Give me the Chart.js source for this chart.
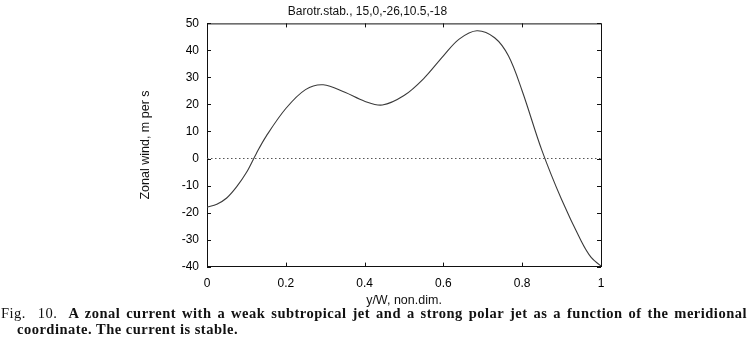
<!DOCTYPE html>
<html>
<head>
<meta charset="utf-8">
<script src="https://cdn.jsdelivr.net/npm/chart.js@4.4.0/dist/chart.umd.min.js"></script>
<style>
  body { margin: 0; background: #fff; }
  #wrap { position: relative; width: 749px; height: 308px; }
  .cap { font-family: "Liberation Serif", "DejaVu Serif", serif; font-size: 14.5px; line-height: 16px;
         color: #111; font-weight: bold; letter-spacing: 0.5px; }
  #cap1 { position: absolute; left: 1px; top: 305px; width: 746px; text-align: justify; text-align-last: justify; white-space: nowrap; }
  #cap2 { position: absolute; left: 17px; top: 321px; }
  .reg { font-weight: normal; }
</style>
</head>
<body>
<div id="wrap"><canvas id="windChart"></canvas></div>
<div id="cap1" class="cap"><span class="reg">Fig.&nbsp; 10.</span>&nbsp; A zonal current with a weak subtropical jet and a strong polar jet as a function of the meridional</div>
<div id="cap2" class="cap">coordinate. The current is stable.</div>
<script>
// meridional coordinate y/W and zonal wind (m/s)
const yPos = [0, 0.025, 0.05, 0.075, 0.10, 0.125, 0.15, 0.20, 0.25, 0.295, 0.35, 0.40, 0.445,
              0.50, 0.55, 0.60, 0.64, 0.685, 0.73, 0.765, 0.80, 0.85, 0.90, 0.95, 0.975, 1.00];
const wind = [-18, -16.9, -14.6, -10.5, -5.2, 1.8, 8.2, 18.5, 25.5, 27.3, 24.5, 21.2, 19.8,
              23.3, 29.6, 38, 44.2, 47.3, 44.7, 38, 25, 3, -15.2, -30.6, -36.6, -39.8];
const zeroLine = [[0, 0], [1, 0]];
const yTicks = [-40, -30, -20, -10, 0, 10, 20, 30, 40, 50];
const xTicks = [0, 0.2, 0.4, 0.6, 0.8, 1];

const titleText = 'Barotr.stab., 15,0,-26,10.5,-18';

// frame on top/right plus small inward tick marks, like the old plot
const frameTicks = {
  id: 'frameTicks',
  afterDraw(chart) {
    const { ctx, chartArea: a, scales } = chart;
    ctx.save();
    ctx.strokeStyle = '#111';
    ctx.lineWidth = 1;
    ctx.beginPath();
    ctx.moveTo(a.left, a.top + 0.5);
    ctx.lineTo(a.right + 0.5, a.top + 0.5);
    ctx.lineTo(a.right + 0.5, a.bottom);
    ctx.stroke();
    ctx.beginPath();
    yTicks.forEach(v => {
      const py = Math.round(scales.y.getPixelForValue(v)) + 0.5;
      ctx.moveTo(a.left, py); ctx.lineTo(a.left + 4, py);
      ctx.moveTo(a.right, py); ctx.lineTo(a.right - 4, py);
    });
    xTicks.forEach(v => {
      const px = Math.round(scales.x.getPixelForValue(v)) + 0.5;
      ctx.moveTo(px, a.bottom); ctx.lineTo(px, a.bottom - 4);
      ctx.moveTo(px, a.top); ctx.lineTo(px, a.top + 4);
    });
    ctx.stroke();
    ctx.restore();
  }
};

const tickFont = { family: 'Liberation Sans, Arial, sans-serif', size: 12 };

new Chart(document.getElementById('windChart'), {
  type: 'line',
  data: {
    datasets: [
      {
        data: yPos.map((x, i) => ({ x, y: wind[i] })),
        borderColor: '#3a3a3a',
        borderWidth: 1.1,
        pointRadius: 0,
        tension: 0.35,
        fill: false
      },
      {
        data: zeroLine.map(p => ({ x: p[0], y: p[1] })),
        borderColor: '#555',
        borderWidth: 1,
        borderDash: [1.5, 2.5],
        pointRadius: 0,
        fill: false
      }
    ]
  },
  options: {
    responsive: true,
    maintainAspectRatio: false,
    animation: false,
    layout: { padding: { left: 134, right: 148, top: 0, bottom: 0 } },
    plugins: {
      legend: { display: false },
      tooltip: { enabled: false },
      title: {
        display: true,
        text: titleText,
        color: '#111',
        font: { family: 'Liberation Sans, Arial, sans-serif', size: 12, weight: 'normal' },
        padding: { top: 4, bottom: 5 }
      }
    },
    scales: {
      x: {
        type: 'linear',
        min: 0,
        max: 1,
        afterBuildTicks: s => { s.ticks = xTicks.map(v => ({ value: v })); },
        ticks: { color: '#000', font: tickFont, padding: 2, maxRotation: 0,
                 callback: v => String(Math.round(v * 10) / 10) },
        grid: { display: false },
        border: { display: true, color: '#111', width: 1 },
        title: {
          display: true,
          text: 'y/W, non.dim.',
          color: '#111',
          font: { family: 'Liberation Sans, Arial, sans-serif', size: 12.5 },
          padding: { top: 0, bottom: 0 }
        }
      },
      y: {
        min: -40,
        max: 50,
        afterBuildTicks: s => { s.ticks = yTicks.map(v => ({ value: v })); },
        afterFit: s => { s.width = 73; },
        ticks: { color: '#000', font: tickFont, padding: 0 },
        grid: { display: false },
        border: { display: true, color: '#111', width: 1 },
        title: {
          display: true,
          text: 'Zonal wind, m per s',
          color: '#111',
          font: { family: 'Liberation Sans, Arial, sans-serif', size: 12.5 },
          padding: { top: 4, bottom: 0 }
        }
      }
    }
  },
  plugins: [frameTicks]
});
</script>
</body>
</html>
